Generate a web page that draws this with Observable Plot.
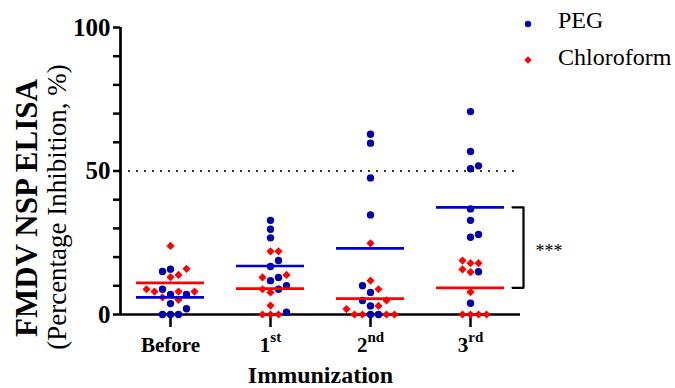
<!DOCTYPE html>
<html>
<head>
<meta charset="utf-8">
<script src="https://cdn.jsdelivr.net/npm/d3@7"></script>
<script src="https://cdn.jsdelivr.net/npm/@observablehq/plot@0.6"></script>
<style>
  body { margin: 0; background: #fff; }
  #wrap { position: relative; width: 675px; height: 388px; font-family: "Liberation Serif", "Times New Roman", serif; }
  #wrap svg { font-family: "Liberation Serif", "Times New Roman", serif; }
  .leg { position: absolute; font-size: 24px; line-height: 24px; color: #000; white-space: nowrap; }
  .sw { position: absolute; }
</style>
</head>
<body>
<div id="wrap"></div>
<script>
// ---- data ----
const categories = ["Before", "1", "2", "3"];
const superscripts = ["", "st", "nd", "rd"];
const seriesNames = ["PEG", "Chloroform"];
const seriesColors = ["#0000b0", "#ff0000"];
const lineColors = ["#0000d8", "#ff0000"];
const yTicks = [0, 10, 20, 30, 40, 50, 60, 70, 80, 90, 100];
const yLabelTicks = [0, 50, 100];
const threshold = 50;

const pegBefore = [15.8, 15.0, 8.8, 7.0, 7.0, 3.8, 2.0, 0, 0, 0];
const peg1st    = [32.8, 29.7, 26.7, 18.8, 16.7, 12.9, 11.8, 10.0, 8.8, 0.8];
const peg2nd    = [62.8, 59.7, 47.6, 34.7, 10.0, 7.7, 4.9, 3.0, 0, 0];
const peg3rd    = [70.7, 56.8, 51.8, 50.8, 36.8, 32.8, 27.9, 26.9, 14.9, 3.9];

const chlBefore = [23.9, 15.9, 13.8, 13.0, 8.8, 8.0, 8.0, 8.0, 6.0, 5.1];
const chl1st    = [22.0, 22.0, 13.8, 12.9, 8.8, 7.7, 3.1, 0, 0, 0];
const chl2nd    = [24.8, 11.8, 8.8, 4.9, 3.0, 1.9, 0, 0, 0, 0];
const chl3rd    = [18.8, 17.9, 17.9, 15.7, 14.8, 7.8, 0, 0, 0, 0];

const pegValues = [pegBefore, peg1st, peg2nd, peg3rd];
const chlValues = [chlBefore, chl1st, chl2nd, chl3rd];

// ---- layout constants ----
const W = 675, H = 388;
const mL = 120, mR = 155, mT = 27, mB = 74;
const pxPerUnitY = (H - mT - mB) / 100;
const pxPerBand = (W - mL - mR) / categories.length;
const dotR = 3.7, step = 8, diam = 7.4;

// ---- build table with a simple beeswarm (quantized slots) ----
const points = [];
categories.forEach((c, gi) => {
  const grp = [];
  [pegValues, chlValues].forEach((arr, si) => {
    arr[gi].forEach(v => grp.push({group: gi, series: seriesNames[si], si, value: v}));
  });
  const sorted = grp.slice().sort((a, b) => a.value - b.value || a.si - b.si);
  const placed = [];
  for (const p of sorted) {
    const py = p.value * pxPerUnitY;
    for (let k = 0; k < 50; k++) {
      const slot = k === 0 ? 0 : (k % 2 ? Math.ceil(k / 2) : -k / 2);
      const px = slot * step;
      if (placed.every(q => Math.hypot(q.px - px, q.py - py) >= diam)) {
        p.xpos = gi + px / pxPerBand;
        placed.push({px, py});
        break;
      }
    }
  }
  points.push(...grp);
});
// draw PEG first, then Chloroform on top
points.sort((a, b) => a.si - b.si);

const means = [];
categories.forEach((c, gi) => {
  means.push({group: gi, series: "PEG", si: 0, mean: d3.mean(pegValues[gi])});
  means.push({group: gi, series: "Chloroform", si: 1, mean: d3.mean(chlValues[gi])});
});
const lastG = categories.length - 1;
const mBlue = means.find(d => d.group === lastG && d.si === 0).mean;
const mRed = means.find(d => d.group === lastG && d.si === 1).mean;
const bracket = [
  {x: lastG + 0.42, y: mBlue}, {x: lastG + 0.53, y: mBlue},
  {x: lastG + 0.53, y: mRed}, {x: lastG + 0.42, y: mRed}
];

const chart = Plot.plot({
  width: W, height: H,
  marginLeft: mL, marginRight: mR, marginTop: mT, marginBottom: mB,
  style: {fontFamily: "Liberation Serif, Times New Roman, serif", background: "#fff", color: "#000"},
  x: {type: "linear", domain: [-0.5, categories.length - 0.5], axis: null},
  y: {domain: [0, 100], axis: null},
  color: {domain: seriesNames, range: seriesColors},
  symbol: {domain: seriesNames, range: ["circle", "diamond2"]},
  marks: [
    Plot.ruleY([threshold], {stroke: "#333", strokeWidth: 2, strokeDasharray: "2,6"}),
    Plot.axisY(yTicks, {
      tickSize: 7, tickPadding: 3, strokeWidth: 2.5, stroke: "#000",
      fontSize: 25, fontWeight: "bold", fill: "#000",
      tickFormat: d => yLabelTicks.includes(d) ? String(d) : "", label: null
    }),
    Plot.axisX(d3.range(categories.length), {
      tickSize: 13, tickPadding: 10, strokeWidth: 2.5, stroke: "#000",
      fontSize: 21, fontWeight: "bold", fill: "#000",
      tickFormat: i => categories[i], label: null
    }),
    Plot.ruleX([-0.5], {y1: 0, y2: 100, stroke: "#000", strokeWidth: 2.7}),
    Plot.ruleY([0], {stroke: "#000", strokeWidth: 2.7}),
    Plot.dot(points, {x: "xpos", y: "value", fill: "series", symbol: "series", r: dotR}),
    Plot.ruleY(means, {
      x1: d => d.group - 0.34, x2: d => d.group + 0.34, y: "mean",
      stroke: d => lineColors[d.si], strokeWidth: 2.7
    }),
    Plot.line(bracket, {x: "x", y: "y", stroke: "#000", strokeWidth: 2.2, strokeLinejoin: "round"}),
    Plot.text(["***"], {
      x: lastG + 0.53, y: (mBlue + mRed) / 2, dx: 12, dy: 4,
      textAnchor: "start", lineAnchor: "middle", fontSize: 18, fill: "#000"
    }),
    Plot.text(["FMDV NSP ELISA"], {
      frameAnchor: "left", rotate: -90, dx: -93, dy: 37,
      textAnchor: "middle", lineAnchor: "middle", fontSize: 31, fontWeight: "bold", fill: "#000"
    }),
    Plot.text(["(Percentage Inhibition, %)"], {
      frameAnchor: "left", rotate: -90, dx: -63, dy: 36,
      textAnchor: "middle", lineAnchor: "middle", fontSize: 27, fill: "#000"
    }),
    Plot.text(["Immunization"], {
      frameAnchor: "bottom", dy: 68, textAnchor: "middle", lineAnchor: "bottom",
      fontSize: 24, fontWeight: "bold", fill: "#000"
    })
  ]
});

const wrap = document.getElementById("wrap");
wrap.appendChild(chart);

// superscripts on x tick labels
d3.select(chart).selectAll("text").each(function() {
  const t = d3.select(this);
  const idx = categories.indexOf(t.text());
  if (idx > 0 && superscripts[idx]) {
    t.append("tspan").attr("dy", "-10").attr("font-size", 15).text(superscripts[idx]);
  }
});

// legend (HTML, over the top-right corner)
const legendItems = [
  {name: seriesNames[0], color: seriesColors[0], shape: "circle", cy: 21.7, top: 8},
  {name: seriesNames[1], color: seriesColors[1], shape: "diamond", cy: 58, top: 45}
];
for (const it of legendItems) {
  const sw = document.createElement("div");
  sw.className = "sw";
  sw.style.left = (527.5 - 6) + "px";
  sw.style.top = (it.cy - 6) + "px";
  sw.innerHTML = it.shape === "circle"
    ? `<svg width="12" height="12"><circle cx="6" cy="6" r="3.2" fill="${it.color}"/></svg>`
    : `<svg width="12" height="12"><path d="M6,2.2L9.8,6L6,9.8L2.2,6Z" fill="${it.color}"/></svg>`;
  wrap.appendChild(sw);
  const tx = document.createElement("div");
  tx.className = "leg";
  tx.style.left = "558px";
  tx.style.top = it.top + "px";
  tx.textContent = it.name;
  wrap.appendChild(tx);
}
</script>
</body>
</html>
